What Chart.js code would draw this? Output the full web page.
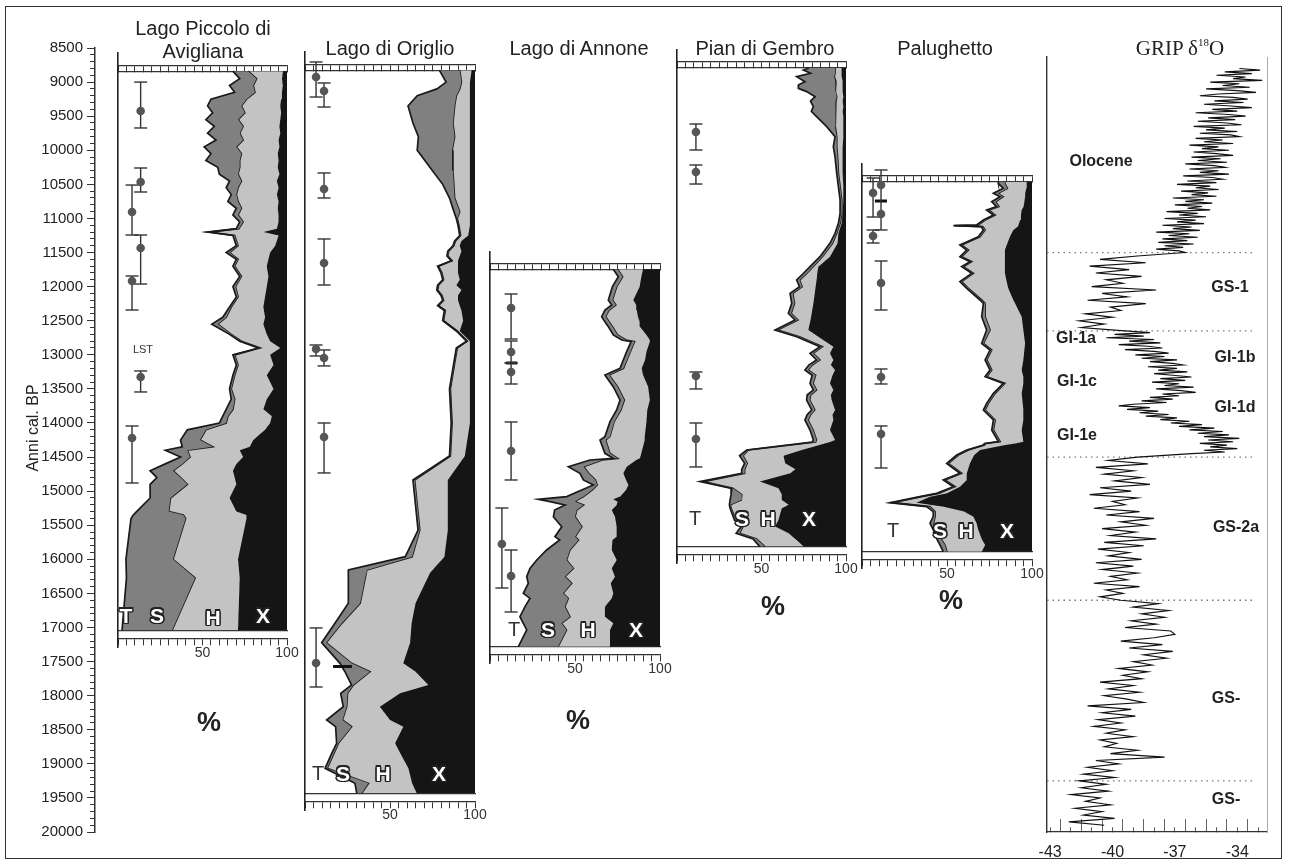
<!DOCTYPE html>
<html lang="it">
<head>
<meta charset="utf-8">
<title>Diagrammi pollinici e GRIP</title>
<script src="https://cdn.jsdelivr.net/npm/chart.js@4.4.1/dist/chart.umd.min.js"></script>
<style>
  html, body { margin:0; padding:0; background:#fff; }
  #wrap { position:relative; width:1289px; height:866px; overflow:hidden; background:#fff;
          font-family:"Liberation Sans", Arial, sans-serif; color:#222; }
  #frame { position:absolute; left:5px; top:6px; width:1275px; height:851px; border:1.5px solid #333; }
  canvas { position:absolute; top:0; }
  #labels { position:absolute; left:0; top:0; width:1289px; height:866px; z-index:10; }
  .lbl { position:absolute; transform:translate(-50%,-50%); white-space:nowrap; line-height:1; }
  .ttl { font-size:20px; color:#222; }
  .pct { font-size:27px; font-weight:bold; color:#222; }
  .out { font-size:21px; font-weight:bold; color:#fff;
         text-shadow: -1.2px -1.2px 0 #222, 1.2px -1.2px 0 #222, -1.2px 1.2px 0 #222, 1.2px 1.2px 0 #222,
                      0 -1.5px 0 #222, 0 1.5px 0 #222, -1.5px 0 0 #222, 1.5px 0 0 #222; }
  .plain { font-size:20px; color:#333; }
  .gl { font-size:16px; font-weight:bold; color:#222; }
  .gt { font-family:"Liberation Serif", "Times New Roman", serif; font-size:21px; color:#222; }
  .gt sup { font-size:11px; vertical-align:9px; line-height:0; }
</style>
</head>
<body>
<div id="wrap">
  <div id="frame"></div>
  <div id="labels">
    <div class="lbl" style="left:33px;top:428px;transform:translate(-50%,-50%) rotate(-90deg);font-size:16px;">Anni cal. BP</div>

    <div class="lbl ttl" style="left:203px;top:28px">Lago Piccolo di</div>
    <div class="lbl ttl" style="left:203px;top:51px">Avigliana</div>
    <div class="lbl ttl" style="left:390px;top:48px">Lago di Origlio</div>
    <div class="lbl ttl" style="left:579px;top:48px">Lago di Annone</div>
    <div class="lbl ttl" style="left:765px;top:48px">Pian di Gembro</div>
    <div class="lbl ttl" style="left:945px;top:48px">Palughetto</div>
    <div class="lbl gt" style="left:1180px;top:48px">GRIP δ<sup>18</sup>O</div>

    <div class="lbl pct" style="left:209px;top:722px">%</div>
    <div class="lbl pct" style="left:578px;top:720px">%</div>
    <div class="lbl pct" style="left:773px;top:606px">%</div>
    <div class="lbl pct" style="left:951px;top:600px">%</div>

    <div class="lbl" style="left:143px;top:349px;font-size:11px;color:#333">LST</div>

    <div class="lbl out" style="left:126px;top:615px">T</div>
    <div class="lbl out" style="left:157px;top:615px">S</div>
    <div class="lbl out" style="left:213px;top:617px">H</div>
    <div class="lbl out" style="left:263px;top:615px">X</div>

    <div class="lbl plain" style="left:318px;top:773px">T</div>
    <div class="lbl out" style="left:343px;top:773px">S</div>
    <div class="lbl out" style="left:383px;top:773px">H</div>
    <div class="lbl out" style="left:439px;top:773px">X</div>

    <div class="lbl plain" style="left:514px;top:629px">T</div>
    <div class="lbl out" style="left:548px;top:629px">S</div>
    <div class="lbl out" style="left:588px;top:629px">H</div>
    <div class="lbl out" style="left:636px;top:629px">X</div>

    <div class="lbl plain" style="left:695px;top:518px">T</div>
    <div class="lbl out" style="left:742px;top:518px">S</div>
    <div class="lbl out" style="left:768px;top:518px">H</div>
    <div class="lbl out" style="left:809px;top:518px">X</div>

    <div class="lbl plain" style="left:893px;top:530px">T</div>
    <div class="lbl out" style="left:940px;top:530px">S</div>
    <div class="lbl out" style="left:966px;top:530px">H</div>
    <div class="lbl out" style="left:1007px;top:530px">X</div>

    <div class="lbl gl" style="left:1101px;top:161px">Olocene</div>
    <div class="lbl gl" style="left:1230px;top:287px">GS-1</div>
    <div class="lbl gl" style="left:1076px;top:338px">GI-1a</div>
    <div class="lbl gl" style="left:1235px;top:357px">GI-1b</div>
    <div class="lbl gl" style="left:1077px;top:381px">GI-1c</div>
    <div class="lbl gl" style="left:1235px;top:407px">GI-1d</div>
    <div class="lbl gl" style="left:1077px;top:435px">GI-1e</div>
    <div class="lbl gl" style="left:1236px;top:527px">GS-2a</div>
    <div class="lbl gl" style="left:1226px;top:698px">GS-</div>
    <div class="lbl gl" style="left:1226px;top:799px">GS-</div>
  </div>
</div>
<script>
// ================= DATA =================
// Lago Piccolo di Avigliana: cumulative % boundaries (T, T+S, T+S+H; X = rest to 100)
const avigYear = [8840, 8950, 9050, 9150, 9250, 9350, 9450, 9550, 9650, 9750, 9850, 9950, 10050, 10150, 10250, 10350, 10450, 10550, 10650, 10750, 10850, 10950, 11050, 11150, 11200, 11250, 11400, 11500, 11600, 11700, 11850, 12000, 12150, 12300, 12450, 12550, 12700, 12800, 12900, 13000, 13150, 13300, 13500, 13650, 13800, 13900, 14000, 14100, 14250, 14350, 14400, 14500, 14600, 14700, 14800, 14900, 15100, 15300, 15350, 15400, 16000, 16273, 17040];
const avigT   = [68, 72, 66, 69, 55, 53, 56, 52, 57, 53, 58, 51, 55, 52, 59, 60, 66, 64, 67, 65, 70, 68, 72, 70, 53, 68, 70, 64, 70, 68, 72, 68, 70, 66, 62, 55.5, 66, 72, 83, 68, 70, 68, 66, 67, 64, 62, 60, 41, 37, 38, 28, 37, 28, 19, 23, 19, 19, 11, 9, 7.7, 4.7, 5, 2.4];
const avigTS  = [77, 82, 80, 81, 76, 73, 75, 71, 74, 72, 74, 70, 73, 72, 72, 71, 73, 71, 70, 71, 73, 71, 74, 71.5, 54, 69, 71, 66, 71, 69, 73, 69.5, 71, 67, 64, 59, 67, 73, 84, 69, 71, 69, 67, 69, 68, 65, 64, 52, 48.5, 56, 41, 42.6, 38, 32.5, 37, 41, 31, 30, 38.6, 40, 32.5, 45.6, 32];
const avigTSH = [97.6, 97, 97.5, 97, 96.5, 96, 96.5, 96, 95.5, 96, 95, 95.5, 94.5, 95, 94.5, 95.5, 94, 95, 94, 95, 94.5, 95, 95, 94, 86, 95, 93, 90, 89, 88, 89, 88, 87, 86, 87, 86, 88, 90, 96, 90, 92, 88, 92, 88, 86, 91, 90, 87, 80, 78, 72, 74, 70, 68, 69, 70, 66, 70, 76, 76, 71, 72, 71];
const avigBarX  = [13.4, 13.4, 8.3, 13.4, 8.3, 13.4, 8.3];
const avigBarLo = [9000, 10260, 10510, 11243, 11844, 13237, 14044];
const avigBarHi = [9673, 10612, 11243, 11962, 12343, 13545, 14880];
const avigDotX  = [13.4, 13.4, 8.3, 13.4, 8.3, 13.4, 8.3];
const avigDotY  = [9424, 10465, 10906, 11434, 11917, 13325, 14220];

// Lago di Origlio
const origYear = [8825, 9000, 9100, 9200, 9350, 9600, 9800, 10000, 10300, 10500, 10700, 10900, 11000, 11100, 11250, 11330, 11400, 11480, 11550, 11620, 11700, 11800, 11900, 11980, 12050, 12130, 12200, 12280, 12350, 12500, 12650, 12800, 12900, 13500, 14000, 14485, 14836, 15570, 15961, 16156, 16200, 16645, 16938, 17222, 17525, 17648, 17843, 17965, 18161, 18357, 18454, 18698, 18845, 19065, 19285, 19430];
const origT   = [79, 83, 77.6, 66, 60.6, 63.5, 66.7, 66, 75, 81, 85, 87.6, 89, 90, 91, 88, 87, 84, 83.5, 86, 78, 80, 81, 78, 77.5, 80, 81, 78, 82, 81, 89, 95, 89, 85, 86, 85, 63.5, 66.5, 59, 25.5, 25.5, 25.5, 17.6, 9.8, 20.6, 23.5, 27.4, 21, 22.5, 12.7, 18, 18.6, 15.7, 11.8, 29.4, 30.4];
const origTS  = [91, 92, 91, 89, 88, 87, 88, 86.5, 87, 87.5, 88, 91, 89.5, 90.5, 91.5, 88.5, 87.5, 84.5, 84, 86.5, 78.5, 80.5, 81.5, 78.5, 78, 80.5, 81.5, 78.5, 82.5, 81.5, 89.5, 95.5, 89.5, 85.5, 86.5, 85.5, 64.5, 67.5, 63, 36.3, 36, 32.4, 21.6, 12.4, 27.4, 38.2, 28.4, 25, 24.5, 22, 27.4, 19.6, 17, 13, 37.3, 33.3];
const origTSH = [98, 97, 97, 97, 97, 97, 97, 97, 97, 97, 97, 97, 97, 97, 96, 92, 91, 92, 91, 90, 90, 90, 91, 89, 92, 90, 90, 91, 92, 93, 91, 97, 97, 97, 97, 94, 84, 84, 82, 75, 73.5, 65, 62.7, 61.8, 57.8, 65, 72.5, 55.9, 44, 50, 57.8, 53, 56, 60.8, 63, 65.7];
const origBarX  = [6.5, 11.2, 11.2, 11.2, 6.5, 11.2, 11.2, 6.5];
const origBarLo = [8705, 9013, 10333, 11301, 12856, 12929, 14000, 17006];
const origBarHi = [9219, 9366, 10700, 11976, 13017, 13163, 14733, 17872];
const origDotX  = [6.5, 11.2, 11.2, 11.2, 6.5, 11.2, 11.2, 6.5];
const origDotY  = [8925, 9130, 10568, 11653, 12915, 13046, 14205, 17520];
const origMarkYear = [17570], origMarkFrom = [16.5], origMarkTo = [27.6];

// Lago di Annone
const annYear = [11746, 11854, 12000, 12196, 12270, 12343, 12440, 12514, 12587, 12709, 12783, 12807, 12954, 13076, 13198, 13296, 13467, 13663, 13809, 13980, 14200, 14249, 14445, 14518, 14543, 14640, 14738, 14836, 14909, 14983, 15080, 15120, 15154, 15203, 15276, 15374, 15521, 15667, 15716, 15863, 16009, 16132, 16254, 16352, 16498, 16572, 16694, 16841, 16938, 17036, 17281];
const annT   = [72.5, 75.5, 72, 69.6, 71.6, 67.6, 65.7, 67.6, 69.6, 72.5, 77.5, 83, 80.4, 78.4, 76.5, 67.6, 72.5, 76.5, 74.5, 70.6, 67.6, 64.7, 67.6, 72.5, 58.8, 46.1, 52.9, 54.9, 60.8, 53.9, 45.1, 28.4, 35.3, 44.1, 38, 37.3, 42.2, 38.2, 41, 33.3, 27.5, 23.5, 21.6, 22.5, 19.6, 23.5, 20.6, 17.6, 19.6, 21.6, 16.7];
const annTS  = [75, 78, 74.5, 72, 74, 70, 68, 70, 72, 75, 80, 85, 82.5, 80.5, 78.5, 70, 75, 79, 77, 73, 70.5, 68, 70.5, 75, 66, 55, 58, 62, 63, 60, 55, 52, 50, 55, 51, 50, 54, 50, 52, 47, 45, 49, 44, 48, 43, 46, 44, 47, 42, 45, 40];
const annTSH = [90, 89, 88, 84.3, 86, 86.3, 87, 88, 88.2, 92, 94, 94, 92, 91.2, 89.2, 90, 93, 94, 92.5, 92, 91, 91, 89, 88.2, 86, 80.4, 78.4, 80, 81.4, 80, 76.5, 72.5, 75, 74.5, 71.6, 73.5, 74.5, 74.5, 72, 71.6, 74.5, 71.6, 73.5, 71, 72.5, 71.6, 67.6, 67.6, 72.5, 70.6, 70.6];
const annBarX  = [12.4, 12.4, 12.4, 12.4, 7, 12.4];
const annBarLo = [12108, 12797, 13120, 13985, 15247, 15863];
const annBarHi = [12768, 13120, 13428, 14836, 16420, 16772];
const annDotX  = [12.4, 12.4, 12.4, 12.4, 7, 12.4];
const annDotY  = [12313, 12959, 13252, 14410, 15775, 16244];
const annMarkYear = [13120], annMarkFrom = [9.5], annMarkTo = [16];

// Pian di Gembro
const gemYear = [8793, 8823, 8870, 8920, 8994, 9040, 9092, 9140, 9214, 9280, 9360, 9430, 9507, 9654, 9800, 9947, 10094, 10338, 10534, 10729, 10925, 11072, 11218, 11365, 11561, 11707, 11800, 11903, 12000, 12098, 12245, 12392, 12489, 12636, 12734, 12880, 12978, 13076, 13150, 13223, 13300, 13418, 13516, 13590, 13663, 13809, 13880, 13956, 14103, 14249, 14280, 14396, 14480, 14591, 14680, 14738, 14860, 14958, 15050, 15129, 15200, 15251, 15422, 15520, 15618, 15700, 15813];
const gemT   = [78, 74.8, 79, 70.8, 75.7, 72, 71.8, 76.7, 81.7, 79, 80.7, 79.5, 82.6, 88.6, 93.5, 92.5, 93.5, 94.5, 95.5, 96.5, 96.5, 95.5, 93.5, 90.5, 84.6, 78.7, 75, 70.8, 72.5, 66.9, 67.9, 65.9, 69.8, 58, 70.8, 84.6, 78.7, 82.6, 78, 75.7, 80, 78.7, 80.7, 77, 76.7, 79.7, 77, 75.7, 78.7, 80.7, 80, 41.2, 37, 40, 38.3, 38.3, 13.6, 32.4, 32, 31.4, 31, 31.4, 34, 38, 35, 45, 49];
const gemTS  = [93.5, 93.5, 93.5, 93, 94, 93.5, 93.5, 94, 94.5, 94, 94, 93.5, 93.5, 93.5, 94.5, 94.5, 95, 95.5, 96.5, 97.5, 97.5, 96.5, 94.5, 92, 86, 80.5, 77, 72.5, 74, 68.5, 69.5, 67.5, 71.5, 59.5, 72.5, 86, 80.5, 84.5, 80, 77.5, 82, 80.5, 82.5, 79, 78.5, 81.5, 79, 77.5, 80.5, 82.5, 82, 42.2, 39, 41.5, 40, 40, 15.6, 33, 38.3, 38, 31.5, 32, 35, 39, 37, 47, 52];
const gemTSH = [97.4, 97.4, 97.4, 97.5, 98, 98, 98, 98, 98.4, 98, 98.4, 98, 98.4, 98.4, 98.4, 98, 98, 98, 98.4, 98.4, 98, 97.4, 95.5, 95, 90.5, 83.6, 83, 82.6, 82, 81.5, 80.7, 79.7, 79, 77.7, 83.6, 92.5, 90.5, 92.5, 91, 93.5, 92, 90.5, 92.5, 91, 91.5, 93.5, 92, 92.5, 90.5, 93.5, 90.5, 73.8, 63, 64, 70, 67, 49, 60, 62, 62, 66, 62, 60, 58, 66, 70, 75];
const gemBarX  = [11.2, 11.2, 11.2, 11.2];
const gemBarLo = [9615, 10216, 13252, 14000];
const gemBarHi = [9996, 10495, 13501, 14645];
const gemDotX  = [11.2, 11.2, 11.2, 11.2];
const gemDotY  = [9732, 10319, 13311, 14235];

// Palughetto
const palYear = [10461, 10485, 10559, 10632, 10681, 10754, 10827, 10876, 10950, 11023, 11096, 11106, 11120, 11170, 11268, 11390, 11463, 11561, 11634, 11707, 11805, 11927, 12025, 12196, 12245, 12441, 12636, 12832, 12930, 13076, 13223, 13321, 13419, 13565, 13712, 13810, 13956, 14103, 14274, 14300, 14323, 14396, 14470, 14592, 14739, 14836, 14934, 15032, 15081, 15169, 15227, 15300, 15374, 15470, 15570, 15700, 15790, 15888];
const palT   = [80, 80.2, 83.1, 77.3, 81.2, 76.3, 79.2, 73.3, 77.3, 71.4, 67.4, 53.7, 70, 71.4, 68.4, 57.6, 61.6, 57.6, 63.5, 58.6, 64.5, 57.6, 61.6, 69.4, 71.4, 70.4, 73.3, 70.4, 75.3, 72.4, 75.3, 72.4, 83.1, 77.3, 73.3, 71.4, 77.3, 76.3, 80.2, 72, 71.4, 61.6, 55.7, 49.8, 57.6, 47.8, 53.7, 43.9, 34.1, 16.5, 38, 41.9, 41.9, 40, 42, 44, 45.9, 47.8];
const palTS  = [84, 84, 85.5, 80, 83, 78.5, 80.5, 74.5, 78.3, 72.4, 68.4, 54.7, 71, 72.4, 69.4, 58.6, 62.6, 58.6, 64.5, 59.6, 65.5, 58.6, 62.6, 70.4, 72.4, 72.4, 75.3, 71.4, 76.3, 73.4, 76.3, 73.4, 84, 78.3, 74.3, 72.4, 78.3, 77.3, 81.2, 73, 72, 62.6, 56.7, 50.8, 58.6, 48.8, 54.7, 45, 35, 18, 40, 43, 43, 42, 44, 46.5, 48.8, 50];
const palTSH = [96.9, 96.9, 96.5, 96, 95.9, 95.5, 95, 93.9, 93.5, 93, 92, 92, 91.5, 89, 87, 85.1, 84.1, 84, 84.1, 84.1, 84.1, 85.1, 86, 89, 90, 93.9, 94.9, 95.9, 95.5, 94.9, 93.9, 94.9, 94.9, 93.9, 94.5, 94.9, 94.9, 93.9, 94.9, 90, 84.1, 69.4, 66, 63.5, 61.6, 61.6, 57.6, 50, 40, 32, 48, 60, 65.5, 67.4, 68.4, 70.4, 72.4, 70.4];
const palBarX  = [6.5, 11.2, 6.5, 11.2, 11.2, 11.2];
const palBarLo = [10407, 10289, 11169, 11624, 13208, 14044];
const palBarHi = [10979, 11169, 11360, 12343, 13428, 14660];
const palDotX  = [6.5, 11.2, 11.2, 6.5, 11.2, 11.2, 11.2];
const palDotY  = [10627, 10509, 10935, 11258, 11947, 13325, 14161];
const palMarkYear = [10745], palMarkFrom = [7.6], palMarkTo = [14.7];

// GRIP delta18O (per mil) vs age (cal BP)
const gripYear = [
  8800, 8825, 8850, 8875, 8900, 8925, 8950, 8975, 9000, 9025,
  9050, 9075, 9100, 9125, 9150, 9175, 9200, 9225, 9250, 9275,
  9300, 9325, 9350, 9375, 9400, 9425, 9450, 9475, 9500, 9525,
  9550, 9575, 9600, 9625, 9650, 9675, 9700, 9725, 9750, 9775,
  9800, 9825, 9850, 9875, 9900, 9925, 9950, 9975, 10000, 10025,
  10050, 10075, 10100, 10125, 10150, 10175, 10200, 10225, 10250, 10275,
  10300, 10325, 10350, 10375, 10400, 10425, 10450, 10475, 10500, 10525,
  10550, 10575, 10600, 10625, 10650, 10675, 10700, 10725, 10750, 10775,
  10800, 10825, 10850, 10875, 10900, 10925, 10950, 10975, 11000, 11025,
  11050, 11075, 11100, 11125, 11150, 11175, 11200, 11225, 11250, 11275,
  11300, 11325, 11350, 11375, 11400, 11425, 11450, 11475,
  11500, 11550, 11600, 11650, 11700, 11750, 11800, 11850, 11900, 11950,
  12000, 12050, 12100, 12150, 12200, 12250, 12300, 12350, 12400, 12450,
  12500, 12550, 12600,
  12650, 12675, 12700, 12725, 12750, 12775, 12800, 12825, 12850, 12875,
  12900, 12925, 12950, 12975, 13000, 13025, 13050, 13075, 13100, 13125,
  13150, 13175, 13200, 13225, 13250, 13275, 13300, 13325, 13350, 13375,
  13400, 13425, 13450, 13475, 13500, 13525, 13550, 13575, 13600, 13625,
  13650, 13675, 13700, 13725, 13750, 13775, 13800, 13825, 13850, 13875,
  13900, 13925, 13950, 13975, 14000, 14025, 14050, 14075, 14100, 14125,
  14150, 14175, 14200, 14225, 14250, 14275, 14300, 14325, 14350, 14375,
  14400, 14425, 14450, 14475,
  14500, 14550, 14600, 14650, 14700, 14750,
  14800, 14850, 14900, 14950, 15000, 15050, 15100, 15150, 15200, 15250,
  15300, 15350, 15400, 15450, 15500, 15550, 15600, 15650, 15700, 15750,
  15800, 15850, 15900, 15950, 16000, 16050, 16100, 16150, 16200, 16250,
  16300, 16350, 16400, 16450, 16500, 16550, 16600, 16650, 16700, 16750,
  16800, 16850, 16900, 16950, 17000, 17050, 17100, 17150, 17200, 17250,
  17300, 17350, 17400, 17450, 17500, 17550, 17600, 17650, 17700, 17750,
  17800, 17850, 17900, 17950, 18000, 18050, 18100, 18150, 18200, 18250,
  18300, 18350, 18400, 18450, 18500, 18550, 18600, 18650, 18700, 18750,
  18800, 18850, 18900, 18950, 19000, 19050, 19100, 19150, 19200, 19250,
  19300, 19350, 19400, 19450, 19500, 19550, 19600, 19650, 19700, 19750,
  19800, 19850, 19900];
const gripD18O = [
  -33.9, -32.9, -34.6, -33.3, -35.0, -33.6, -34.2, -32.8, -35.3, -33.9,
  -34.7, -33.4, -35.5, -34.0, -33.1, -34.9, -35.8, -34.2, -33.5, -35.1,
  -33.7, -35.6, -34.3, -33.3, -35.2, -34.0, -36.0, -34.4, -33.6, -35.4,
  -34.1, -35.9, -34.5, -33.8, -36.1, -34.6, -35.5, -34.0, -35.8, -34.3,
  -33.9, -36.0, -34.7, -35.6, -34.2, -36.3, -34.9, -35.7, -34.4, -36.1,
  -35.0, -34.2, -36.2, -34.8, -35.9, -34.5, -36.5, -35.1, -34.6, -36.3,
  -34.9, -35.8, -34.4, -36.6, -35.2, -34.7, -36.4, -35.0, -36.9, -35.3,
  -36.0, -34.9, -36.7, -35.4, -36.2, -35.0, -37.1, -35.6, -36.5, -35.2,
  -37.0, -35.7, -36.4, -35.3, -37.4, -35.9, -36.8, -35.5, -37.5, -36.0,
  -36.9, -35.6, -37.6, -36.2, -37.1, -35.8, -37.9, -36.3, -37.3, -35.9,
  -37.6, -36.4, -37.8, -36.1, -37.5, -36.6, -37.9, -36.8,
  -36.5, -38.8, -40.6, -38.4, -41.1, -39.2, -40.8, -38.6, -40.3, -39.5,
  -41.0, -37.9, -40.5, -39.3, -41.2, -38.4, -40.1, -39.6, -41.3, -40.0,
  -41.6, -40.4, -41.5,
  -39.4, -38.2, -39.9, -38.5, -40.3, -38.0, -39.2, -37.7, -39.7, -38.3,
  -37.6, -39.4, -38.0, -37.3, -38.9, -37.5, -38.6, -36.9, -38.2, -37.1,
  -36.6, -38.3, -36.9, -37.8, -36.4, -38.0, -37.1, -36.2, -37.7, -36.5,
  -38.1, -36.8, -37.5, -36.1, -37.9, -36.7, -36.0, -37.6, -36.8, -38.2,
  -37.1, -38.6, -37.4, -39.0, -39.7, -38.2, -39.3, -37.8, -38.7, -37.3,
  -38.4, -36.9, -37.7, -36.3, -37.2, -35.7, -36.8, -35.1, -36.3, -34.7,
  -35.9, -34.4, -35.6, -33.9, -35.4, -34.2, -35.8, -34.5, -35.3, -34.0,
  -35.6, -34.6, -36.2, -37.5,
  -38.8, -40.2, -38.3, -40.8, -39.0, -40.4,
  -38.6, -39.9, -38.2, -40.6, -39.1, -41.1, -38.8, -40.0, -39.4, -40.9,
  -38.7, -40.3, -38.0, -39.6, -38.4, -40.5, -38.9, -40.1, -37.9, -40.4,
  -38.5, -40.7, -39.2, -40.2, -38.6, -40.8, -39.0, -40.5, -38.8, -40.1,
  -39.3, -40.9, -38.7, -40.3, -39.5, -40.6, -39.6, -37.8, -39.0, -37.3,
  -38.6, -37.5, -39.1, -37.9, -39.4, -37.2, -37.0, -38.0, -39.6, -37.6,
  -39.2, -37.1, -38.5, -37.4, -39.0, -38.1, -39.7, -38.3, -39.5, -38.6,
  -40.6, -39.0, -40.2, -38.7, -40.4, -39.3, -38.5, -41.2, -39.1, -40.5,
  -38.9, -40.7, -39.6, -40.9, -39.4, -40.3, -39.0, -40.6, -39.8, -40.4,
  -38.8, -40.1, -37.5, -40.8, -39.7, -41.2, -40.0, -41.4, -39.9, -41.6,
  -40.3, -41.5, -40.2, -42.0, -40.6, -41.3, -40.1, -41.8, -40.5, -41.4,
  -39.9, -42.1, -40.4];
const gripStageBounds = [11500, 12650, 14500, 16600, 19250];
const gripTickLabels  = [-43, -40, -37, -34];
const gripMinorTicks  = [-43, -42, -41, -40, -39, -38, -37, -36, -35, -34, -33];
const gripMajorTicks  = [-42.5, -41.5, -40.5, -39.5, -38.5, -37.5, -36.5, -35.5, -34.5, -33.5];

// ================= DRAWING =================
const FONT = '"Liberation Sans", Arial, sans-serif';
Chart.defaults.font.family = FONT;
Chart.defaults.color = '#222';
const YPP = 500 / 34.09;                   // years per pixel of the shared age axis
const yearPx = y => 48 + (y - 8500) / YPP; // pixel row of a given age
const S_COL = '#808080', H_COL = '#c3c3c3', X_COL = '#151515', LINE = '#1a1a1a', AX = '#333';
const wrap = document.getElementById('wrap');
const labelsLayer = document.getElementById('labels');

function addCanvas(left, width) {
  const c = document.createElement('canvas');
  c.width = width; c.height = 866;
  c.style.left = left + 'px'; c.style.width = width + 'px'; c.style.height = '866px';
  wrap.insertBefore(c, labelsLayer);
  return c;
}
const baseOpts = {
  responsive: false, maintainAspectRatio: false, animation: false, devicePixelRatio: 1, events: [],
  plugins: { legend: { display: false }, tooltip: { enabled: false }, title: { display: false } }
};

// ---- shared age axis ----
new Chart(addCanvas(0, 100), {
  type: 'line', data: { datasets: [] },
  options: Object.assign({}, baseOpts, {
    layout: { padding: { left: 0, right: 0, top: 48, bottom: 866 - yearPx(20000) } },
    scales: {
      x: { type: 'linear', display: false, min: 0, max: 1 },
      y: { type: 'linear', position: 'left', reverse: true, min: 8500, max: 20000,
           afterFit: s => { s.width = 95; },
           ticks: { stepSize: 500, autoSkip: false, padding: 4, color: '#222', font: { size: 15 }, callback: v => String(v) },
           grid: { drawOnChartArea: false, tickLength: 8, color: AX, lineWidth: 1 },
           border: { color: AX, width: 1.5 } },
      yMinor: { type: 'linear', axis: 'y', position: { x: 0 }, reverse: true, min: 8500, max: 20000,
           ticks: { display: false, stepSize: 100, autoSkip: false },
           grid: { drawOnChartArea: false, tickLength: 5, color: AX, lineWidth: 1 },
           border: { display: false } }
    }
  })
});

// ---- pollen panels ----
function panelChart(px0, px100, years, t, ts, tsh, barX, barLo, barHi, dotX, dotY, markY, markFrom, markTo) {
  const pad = 24;
  const top = years[0], bot = years[years.length - 1];
  const yMin = top - 18 * YPP, yMax = bot + 17 * YPP;
  const cv = addCanvas(px0 - pad, px100 - px0 + 2 * pad);
  const pts = arr => arr.map((v, i) => ({ x: v, y: years[i] }));
  const common = { xAxisID: 'x', yAxisID: 'y', tension: 0, pointRadius: 0 };
  const ds = [
    Object.assign({}, common, { data: pts(t), borderColor: LINE, borderWidth: 1.7, backgroundColor: S_COL, fill: '+1' }),
    Object.assign({}, common, { data: pts(ts), borderColor: LINE, borderWidth: 1.7, backgroundColor: H_COL, fill: '+1' }),
    Object.assign({}, common, { data: pts(tsh), borderColor: X_COL, borderWidth: 1, backgroundColor: X_COL, fill: { value: 100 } })
  ];
  barX.forEach((x, i) => ds.push({ xAxisID: 'x', yAxisID: 'y', data: [{ x, y: barLo[i] }, { x, y: barHi[i] }],
    borderColor: '#333', borderWidth: 1.4, pointStyle: 'line', pointRadius: 6.5, pointBorderColor: '#333',
    pointBorderWidth: 1.4, fill: false, order: -1, clip: false }));
  (markY || []).forEach((y, i) => ds.push({ xAxisID: 'x', yAxisID: 'y', data: [{ x: markFrom[i], y }, { x: markTo[i], y }],
    borderColor: '#111', borderWidth: 3, pointRadius: 0, fill: false, order: -1 }));
  ds.push({ xAxisID: 'x', yAxisID: 'y', data: dotX.map((x, i) => ({ x, y: dotY[i] })), showLine: false,
    pointRadius: 4.3, pointBackgroundColor: '#555', pointBorderWidth: 0, fill: false, order: -2, clip: false });

  const hAxis = (yPos, extra) => Object.assign({
    type: 'linear', axis: 'x', min: 0, max: 100, position: { y: yPos },
    ticks: { display: false, stepSize: 5, autoSkip: false },
    grid: { display: false }, border: { color: AX, width: 1.3 }
  }, extra || {});
  new Chart(cv, {
    type: 'line', data: { datasets: ds },
    options: Object.assign({}, baseOpts, {
      indexAxis: 'y',
      layout: { padding: { left: pad, right: pad, top: yearPx(yMin), bottom: 866 - yearPx(yMax) } },
      scales: {
        x: hAxis(bot + 8 * YPP, {
          ticks: { display: true, stepSize: 5, autoSkip: false, maxRotation: 0, padding: 0, color: '#333',
                   font: { size: 14 }, callback: v => (v === 50 || v === 100) ? String(v) : '' },
          grid: { display: true, drawOnChartArea: false, tickLength: 6, color: AX, lineWidth: 1 } }),
        xBase: hAxis(bot),
        xTop: hAxis(top, { grid: { display: true, drawOnChartArea: false, tickLength: -6, color: AX, lineWidth: 1 } }),
        xTop2: hAxis(top - 6 * YPP),
        y: { type: 'linear', axis: 'y', reverse: true, min: yMin, max: yMax, position: { x: 0 },
             ticks: { display: false }, grid: { display: false }, border: { color: '#222', width: 1.6 } }
      }
    })
  });
}

panelChart(118, 287, avigYear, avigT, avigTS, avigTSH, avigBarX, avigBarLo, avigBarHi, avigDotX, avigDotY);
panelChart(305, 475, origYear, origT, origTS, origTSH, origBarX, origBarLo, origBarHi, origDotX, origDotY, origMarkYear, origMarkFrom, origMarkTo);
panelChart(490, 660, annYear, annT, annTS, annTSH, annBarX, annBarLo, annBarHi, annDotX, annDotY, annMarkYear, annMarkFrom, annMarkTo);
panelChart(677, 846, gemYear, gemT, gemTS, gemTSH, gemBarX, gemBarLo, gemBarHi, gemDotX, gemDotY);
panelChart(862, 1032, palYear, palT, palTS, palTSH, palBarX, palBarLo, palBarHi, palDotX, palDotY, palMarkYear, palMarkFrom, palMarkTo);

// ---- GRIP ----
(function () {
  const cvLeft = 1000, cvW = 289;
  const gL = 1047, gR = 1267;
  const xMin = -43.15, xMax = -32.57;
  const yMin = 8500 + (57 - 48) * YPP, yMax = 20000;
  const ds = [{ xAxisID: 'x', yAxisID: 'y', data: gripYear.map((y, i) => ({ x: gripD18O[i], y })),
    borderColor: '#111', borderWidth: 1.15, pointRadius: 0, tension: 0, fill: false }];
  gripStageBounds.forEach(y => ds.push({ xAxisID: 'x', yAxisID: 'y', data: [{ x: xMin, y }, { x: -33.2, y }],
    borderColor: '#777', borderWidth: 1.3, borderDash: [1.5, 4], pointRadius: 0, fill: false }));
  new Chart(addCanvas(cvLeft, cvW), {
    type: 'line', data: { datasets: ds },
    options: Object.assign({}, baseOpts, {
      indexAxis: 'y',
      layout: { padding: { left: gL - cvLeft, right: cvLeft + cvW - gR, top: yearPx(yMin), bottom: 866 - yearPx(yMax) } },
      scales: {
        x: { type: 'linear', axis: 'x', min: xMin, max: xMax, position: { y: 20000 },
             afterBuildTicks: s => { s.ticks = gripMinorTicks.map(v => ({ value: v })); },
             ticks: { autoSkip: false, maxRotation: 0, padding: 16, color: '#222', font: { size: 16 },
                      callback: v => gripTickLabels.includes(v) ? String(v) : '' },
             grid: { drawOnChartArea: false, tickLength: -5, color: '#555', lineWidth: 1 },
             border: { color: AX, width: 1.3 } },
        x2: { type: 'linear', axis: 'x', min: xMin, max: xMax, position: { y: 20000 },
             afterBuildTicks: s => { s.ticks = gripMajorTicks.map(v => ({ value: v })); },
             ticks: { display: false, autoSkip: false },
             grid: { drawOnChartArea: false, tickLength: -13, color: '#666', lineWidth: 1 },
             border: { display: false } },
        y: { type: 'linear', axis: 'y', reverse: true, min: yMin, max: yMax, position: { x: xMin },
             ticks: { display: false }, grid: { display: false }, border: { color: '#333', width: 1.4 } },
        yR: { type: 'linear', axis: 'y', reverse: true, min: yMin, max: yMax, position: { x: xMax },
             ticks: { display: false }, grid: { display: false }, border: { color: '#aaa', width: 1 } }
      }
    })
  });
})();
</script>
</body>
</html>
